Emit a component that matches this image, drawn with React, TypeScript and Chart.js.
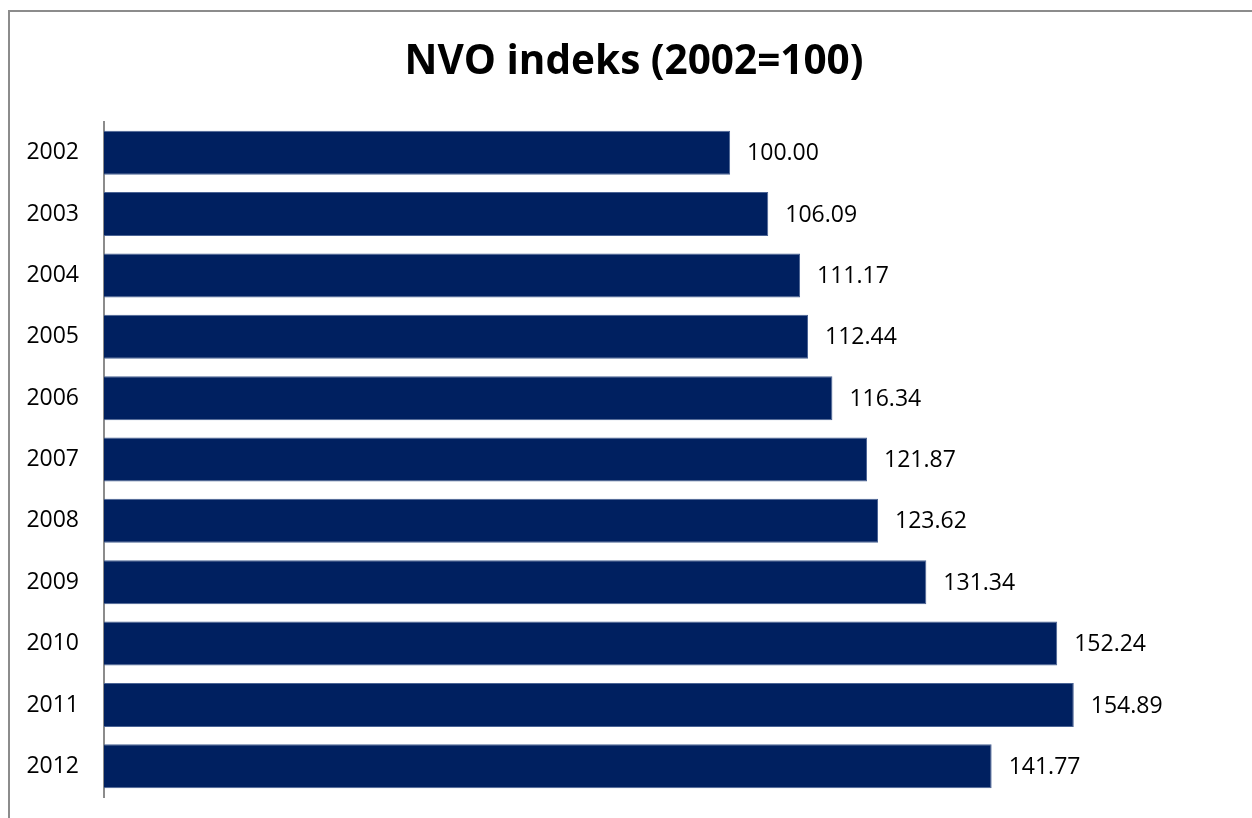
import React, { useEffect, useRef } from "react";
import { Chart, registerables } from "chart.js";

Chart.register(...registerables);

const TITLE = "NVO indeks (2002=100)";
const YEARS = ["2002", "2003", "2004", "2005", "2006", "2007", "2008", "2009", "2010", "2011", "2012"];
const INDEX_VALUES = [100.0, 106.09, 111.17, 112.44, 116.34, 121.87, 123.62, 131.34, 152.24, 154.89, 141.77];
const X_MAX = 180;

const FONT = "'Open Sans', 'Liberation Sans', sans-serif";

const framePlugin = {
  id: "frame",
  beforeDraw(chart: any) {
    const ctx = chart.ctx;
    ctx.save();
    ctx.fillStyle = "#ffffff";
    ctx.fillRect(0, 0, chart.width, chart.height);
    ctx.strokeStyle = "#8c8c8c";
    ctx.lineWidth = 2;
    ctx.beginPath();
    ctx.moveTo(9, chart.height + 2);
    ctx.lineTo(9, 11);
    ctx.lineTo(chart.width + 2, 11);
    ctx.stroke();
    ctx.restore();
  },
};

const titlePlugin = {
  id: "customTitle",
  afterDraw(chart: any) {
    const ctx = chart.ctx;
    ctx.save();
    ctx.font = `bold 40.5px ${FONT}`;
    ctx.fillStyle = "#000000";
    ctx.textAlign = "center";
    ctx.textBaseline = "middle";
    ctx.fillText(TITLE, 634, 62);
    ctx.restore();
  },
};

const valueLabelPlugin = {
  id: "valueLabels",
  afterDatasetsDraw(chart: any) {
    const ctx = chart.ctx;
    const meta = chart.getDatasetMeta(0);
    const data = chart.data.datasets[0].data as number[];
    ctx.save();
    ctx.font = `23px ${FONT}`;
    ctx.fillStyle = "#000000";
    ctx.textAlign = "left";
    ctx.textBaseline = "middle";
    meta.data.forEach((bar: any, i: number) => {
      ctx.fillText(data[i].toFixed(2), bar.x + 17, bar.y + 1);
    });
    ctx.restore();
  },
};

export default function App() {
  const canvasRef = useRef<HTMLCanvasElement | null>(null);

  useEffect(() => {
    if (!canvasRef.current) return;
    const chart = new Chart(canvasRef.current, {
      type: "bar",
      data: {
        labels: YEARS,
        datasets: [
          {
            data: INDEX_VALUES,
            backgroundColor: "#002060",
            borderColor: "#4a6394",
            borderWidth: 1,
            categoryPercentage: 1,
            barPercentage: 0.717,
          },
        ],
      },
      options: {
        indexAxis: "y",
        animation: false,
        responsive: false,
        maintainAspectRatio: false,
        events: [],
        layout: {
          padding: { top: 122, bottom: 21, left: 0, right: 21 },
        },
        plugins: {
          legend: { display: false },
          title: { display: false },
          tooltip: { enabled: false },
        },
        scales: {
          x: {
            display: false,
            min: 0,
            max: X_MAX,
          },
          y: {
            afterFit(scale: any) {
              scale.width = 104;
              scale.paddingTop = 0;
              scale.paddingBottom = 0;
            },
            grid: { display: false, drawTicks: false },
            border: { display: true, color: "#8c8c8c", width: 2 },
            ticks: {
              color: "#000000",
              padding: 25,
              font: { family: FONT, size: 23 },
            },
          },
        },
      },
      plugins: [framePlugin, valueLabelPlugin, titlePlugin],
    });
    return () => chart.destroy();
  }, []);

  return (
    <div style={{ position: "absolute", left: 0, top: 0, width: 1252, height: 818 }}>
      <canvas ref={canvasRef} width={1252} height={818} style={{ display: "block", width: 1252, height: 818 }} />
    </div>
  );
}
